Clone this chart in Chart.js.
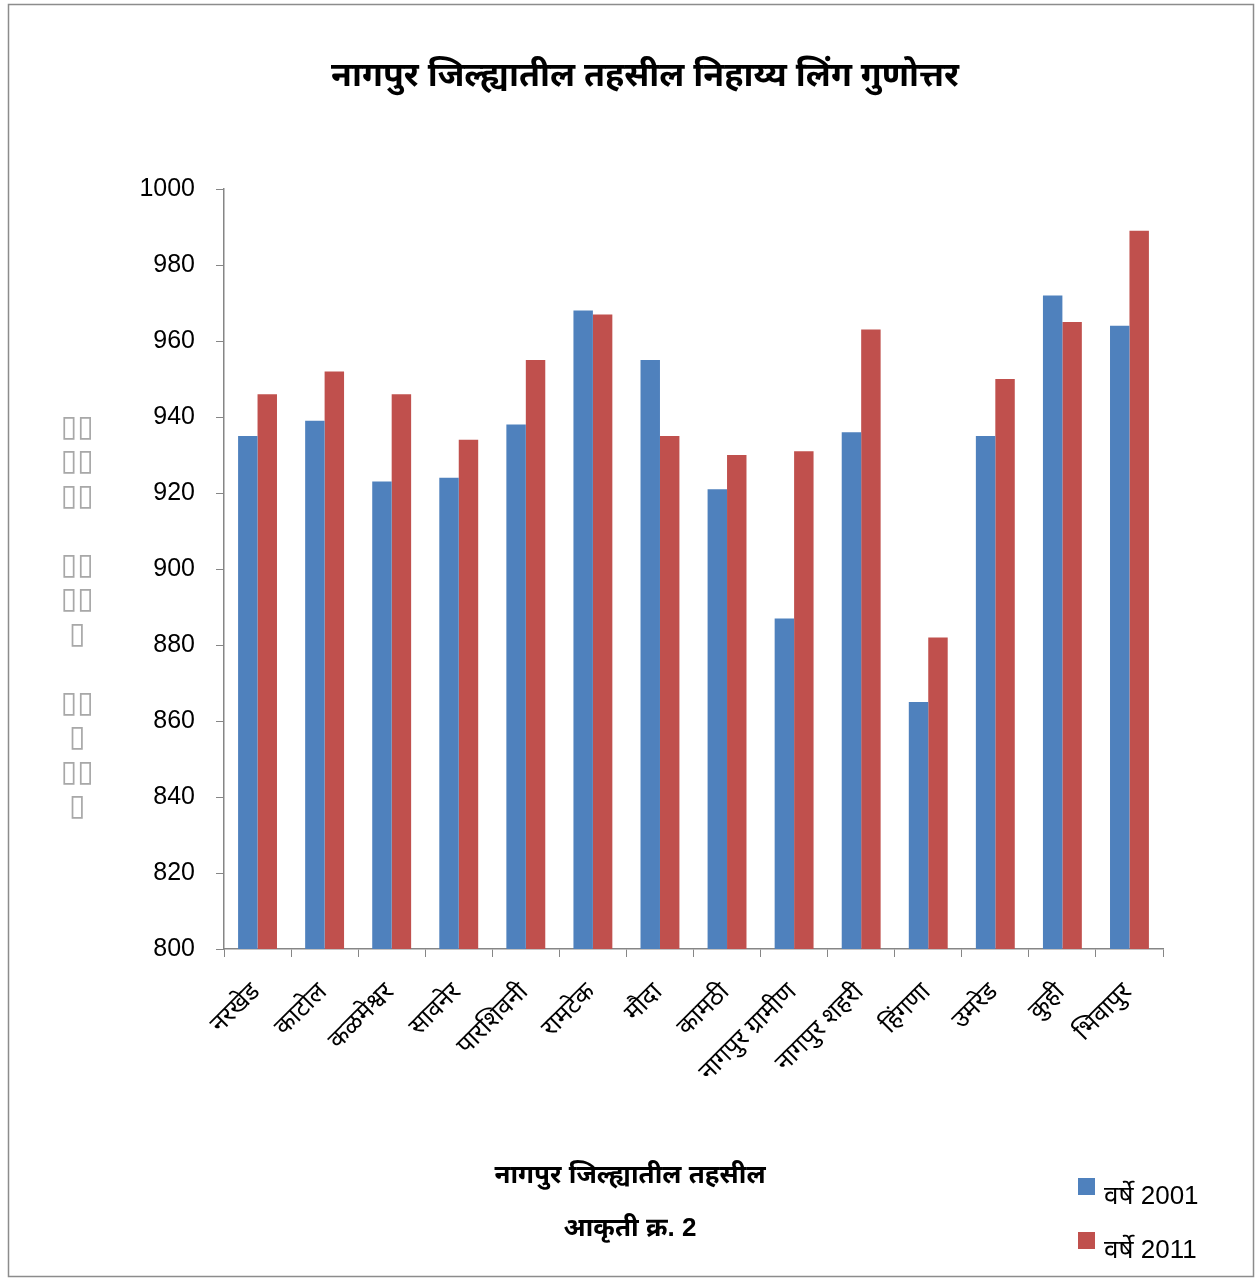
<!DOCTYPE html>
<html>
<head>
<meta charset="utf-8">
<style>
  html, body { margin: 0; padding: 0; background: #fff; }
  #wrap { width: 1259px; height: 1279px; position: relative; }
</style>
<script src="https://cdn.jsdelivr.net/npm/chart.js@4.4.0/dist/chart.umd.min.js"></script>
</head>
<body>
<div id="wrap"><canvas id="ratioChart" width="1259" height="1279"></canvas></div>
<script>
// Tahsils of Nagpur district
const tahsils = ['नरखेड', 'काटोल', 'कळमेश्वर', 'सावनेर', 'पारशिवनी', 'रामटेक', 'मौदा',
    'कामठी', 'नागपुर ग्रामीण', 'नागपुर शहरी', 'हिंगणा', 'उमरेड', 'कुही', 'भिवापुर'];
const ratio2001 = [935, 939, 923, 924, 938, 968, 955, 921, 887, 936, 865, 935, 972, 964];
const ratio2011 = [946, 952, 946, 934, 955, 967, 935, 930, 931, 963, 882, 950, 965, 989];
const seriesNames = ['वर्षे 2001', 'वर्षे 2011'];
const yTicks = [800, 820, 840, 860, 880, 900, 920, 940, 960, 980, 1000];

const chartTitle = 'नागपुर जिल्ह्यातील तहसील निहाय्य लिंग गुणोत्तर';
const xTitle = 'नागपुर जिल्ह्यातील तहसील';
const figNote = 'आकृती क्र. 2';
// y axis title came out as missing-glyph boxes in the original
const yTitleRows = ['▯▯', '▯▯', '▯▯', '', '▯▯', '▯▯', '▯', '', '▯▯', '▯', '▯▯', '▯'];

const BLUE = '#4F81BD';
const RED = '#C0504D';
const AXIS = '#868686';
const DEVA = '"Noto Sans Devanagari", "Lohit Devanagari", "Mangal", "Noto Sans", "DejaVu Sans", sans-serif';
const LATIN = '"Liberation Sans", Arial, ' + DEVA;

// Draw titles, legend, y title and frame
const decorPlugin = {
    id: 'decor',
    afterDraw(chart) {
        const ctx = chart.ctx;
        ctx.save();

        // outer frame
        ctx.strokeStyle = '#8c8c8c';
        ctx.lineWidth = 1.5;
        ctx.strokeRect(8.5, 4.5, 1245, 1272);

        ctx.fillStyle = '#000';
        ctx.textAlign = 'center';
        ctx.textBaseline = 'middle';
        ctx.font = 'bold 34px ' + DEVA;
        ctx.fillText(chartTitle, 645, 80);

        ctx.font = 'bold 26px ' + LATIN;
        ctx.fillText(xTitle, 630, 1176);
        ctx.fillText(figNote, 630, 1229);

        // y title boxes
        ctx.fillStyle = '#a8a8a8';
        ctx.font = '30px "DejaVu Sans", sans-serif';
        let y = 428;
        yTitleRows.forEach(row => {
            if (row) ctx.fillText(row, 77, y);
            y += 34.5;
        });

        // legend
        const colors = [BLUE, RED];
        ctx.textAlign = 'left';
        seriesNames.forEach((name, i) => {
            const ly = 1187 + i * 54;
            ctx.fillStyle = colors[i];
            ctx.fillRect(1078, ly - 9, 17, 17);
            ctx.fillStyle = '#000';
            ctx.font = '26px ' + LATIN;
            ctx.fillText(name, 1104, ly + 10);
        });
        ctx.restore();
    }
};

const ctx = document.getElementById('ratioChart').getContext('2d');
new Chart(ctx, {
    type: 'bar',
    data: {
        labels: tahsils,
        datasets: [
            { label: seriesNames[0], data: ratio2001, backgroundColor: BLUE },
            { label: seriesNames[1], data: ratio2011, backgroundColor: RED },
        ],
    },
    options: {
        responsive: false,
        animation: false,
        devicePixelRatio: 1,
        layout: { padding: { left: 124, right: 96, top: 189, bottom: 130 } },
        datasets: { bar: { categoryPercentage: 0.58, barPercentage: 1.0 } },
        plugins: {
            legend: { display: false },
            title: { display: false },
            tooltip: { enabled: false },
        },
        scales: {
            x: {
                offset: true,
                grid: { offset: true, drawOnChartArea: false, color: AXIS, tickLength: 8 },
                border: { color: AXIS, width: 1.5 },
                ticks: {
                    color: '#000',
                    font: { family: DEVA, size: 25 },
                    minRotation: 45,
                    maxRotation: 45,
                    autoSkip: false,
                    padding: 22,
                },
                afterFit(scale) { scale.height = 200; },
            },
            y: {
                min: 800,
                max: 1000,
                afterBuildTicks(scale) { scale.ticks = yTicks.map(v => ({ value: v })); },
                grid: { drawOnChartArea: false, color: AXIS, tickLength: 8 },
                border: { color: AXIS, width: 1.5 },
                ticks: {
                    color: '#000',
                    font: { family: LATIN, size: 25 },
                    padding: 21,
                    callback: v => String(v),
                },
                afterFit(scale) { scale.width = 100; },
            },
        },
    },
    plugins: [decorPlugin],
});
</script>
</body>
</html>
